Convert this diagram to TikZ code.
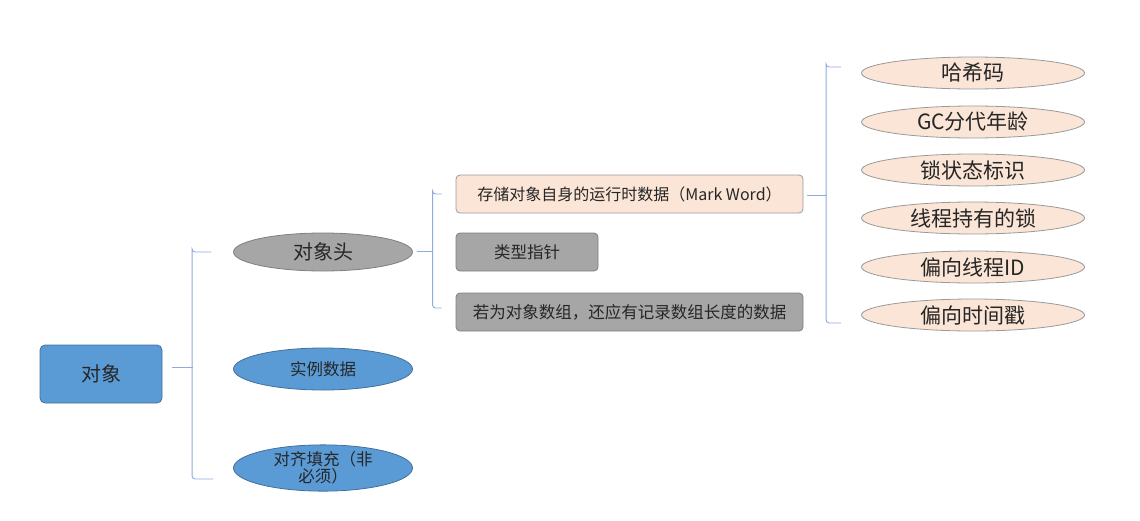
\documentclass[tikz,border=0pt]{standalone}
\usepackage{fontspec}
\setmainfont{Noto Sans CJK SC}
\usetikzlibrary{shapes.geometric,calc}
\definecolor{bluef}{HTML}{5B9BD5}
\definecolor{blued}{HTML}{41719C}
\definecolor{grayf}{HTML}{A6A6A6}
\definecolor{grayd}{HTML}{7F7F7F}
\definecolor{peach}{HTML}{FBE5D6}
\definecolor{peachd}{HTML}{9A9A9A}
\definecolor{brk}{HTML}{8FAADC}
\definecolor{txt}{HTML}{262626}
\begin{document}
\begin{tikzpicture}[x=1pt,y=-1pt,
  every node/.style={inner sep=0pt,text=txt,align=center},
  bluebox/.style={draw=blued,fill=bluef,rounded corners=5pt,line width=0.8pt,minimum width=122pt,minimum height=58pt,font=\fontsize{20}{22}\selectfont},
  ell/.style={ellipse,draw,line width=0.8pt,minimum width=179pt,minimum height=38pt},
  grayell/.style={ell,draw=grayd,fill=grayf,font=\fontsize{20}{22}\selectfont},
  blueell/.style={ell,draw=blued,fill=bluef,minimum height=42pt,font=\fontsize{16.5}{18}\selectfont},
  peachbox/.style={draw=peachd,fill=peach,rounded corners=4pt,line width=0.8pt,minimum height=38pt,font=\fontsize{16}{18}\selectfont},
  graybox/.style={draw=grayd,fill=grayf,rounded corners=4pt,line width=0.8pt,minimum height=38pt,font=\fontsize{16.5}{18}\selectfont},
  peachell/.style={ellipse,draw=peachd,fill=peach,line width=0.8pt,minimum width=223pt,minimum height=32pt,font=\fontsize{21}{23}\selectfont},
  brace/.style={draw=brk,line width=0.9pt,rounded corners=3pt}
]
\useasboundingbox (0,0) rectangle (1140,520);

% level 0
\node[bluebox] (obj) at (101,374) {对象};

% level 1
\node[grayell] (head) at (323,252) {对象头};
\node[blueell] (inst) at (323,369) {实例数据};
\node[blueell,minimum height=41pt,font=\fontsize{16.5}{17}\selectfont] (pad) at (323,468) {对齐填充（非\\必须）};

% level 2
\node[peachbox,minimum width=347pt] (mark) at (629.5,194) {存储对象自身的运行时数据（Mark Word）};
\node[graybox,minimum width=142pt] (klass) at (527,252) {类型指针};
\node[graybox,minimum width=347pt] (arr) at (629.5,312) {若为对象数组，还应有记录数组长度的数据};

% level 3
\node[peachell] (e1) at (973,73) {哈希码};
\node[peachell] (e2) at (973,122) {GC分代年龄};
\node[peachell] (e3) at (973,170) {锁状态标识};
\node[peachell] (e4) at (973,218) {线程持有的锁};
\node[peachell] (e5) at (973,267) {偏向线程ID};
\node[peachell] (e6) at (973,315) {偏向时间戳};

% brace 1
\draw[brace] ($(obj.east)+(10,-7)$) -- ($(obj.east)+(31,-7)$);
\draw[brace] ($(head.west)+(-22,0)$) -| ($(head.west)+(-41,0)$) |- ($(pad.west)+(-20,11)$);

% brace 2
\draw[brace] ($(head.east)+(4,-1)$) -- ($(head.east)+(20,-1)$);
\draw[brace] ($(mark.west)+(-14,0)$) -| ($(mark.west)+(-23,0)$) |- ($(arr.west)+(-14,-4)$);

% brace 3
\draw[brace] ($(mark.east)+(4,1)$) -- ($(mark.east)+(24,1)$);
\draw[brace] ($(e1.west)+(-20,-6)$) -| ($(e1.west)+(-35,-6)$) |- ($(e6.west)+(-20,8)$);
\end{tikzpicture}
\end{document}
